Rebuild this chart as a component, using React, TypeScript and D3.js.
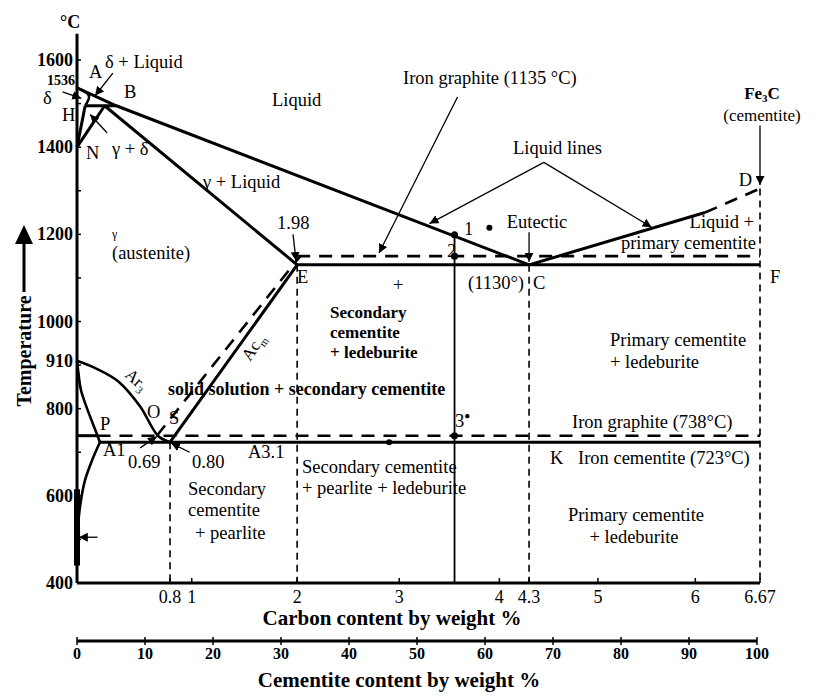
import React from 'react';
import * as d3 from 'd3';

const W = 822;
const H = 698;
const FONT = "'Liberation Serif', 'Times New Roman', serif";

// axis ticks
const carbonTicks = [0.8, 1, 2, 3, 4, 4.3, 5, 6, 6.67];
const carbonTickLabels = ['0.8', '1', '2', '3', '4', '4.3', '5', '6', '6.67'];
const tempTicks = [1600, 1400, 1200, 1000, 910, 800, 600, 400];
const cementiteTicks = [0, 10, 20, 30, 40, 50, 60, 70, 80, 90, 100];

// phase boundaries as [carbon %, temperature °C]
const liquidusABC = [[0, 1536], [0.32, 1495], [4.3, 1130]];
const liquidusCD = [[4.3, 1130], [6.1, 1250]];
const liquidusCDExt = [[6.1, 1250], [6.67, 1305]];
const deltaSolidusAH = [[0, 1536], [0.09, 1518], [0.06, 1495]];
const peritecticHB = [[0.06, 1495], [0.32, 1495]];
const deltaHN = [[0.06, 1495], [0, 1400]];
const gammaJN = [[0.22, 1495], [0, 1400]];
const solidusJE = [[0.22, 1495], [2, 1130]];
const eutecticEF = [[2, 1130], [6.67, 1130]];
const graphiteEutectic = [[2, 1150], [6.67, 1150]];
const acmSE = [[0.8, 723], [2, 1130]];
const acmGraphite = [[0.68, 738], [2.03, 1150]];
const ar3GOS = [[0, 910], [0.15, 892], [0.34, 862], [0.53, 805], [0.69, 738], [0.8, 723]];
const ferriteGP = [[0, 910], [0.01, 880], [0.03, 840], [0.16, 738], [0.18, 723]];
const solvusPQ = [[0.18, 723], [0.116, 682], [0.059, 636], [0.028, 590], [0.01, 545], [0, 500]];
const eutectoidA1 = [[0.18, 723], [6.67, 723]];
const eutectoidGraphite = [[0.16, 738], [6.67, 738]];
const graphiteStub = [[0, 738], [0.16, 738]];
const ferriteEdge = [[0, 440], [0, 615]];

// vertical dashed composition lines [carbon, top temperature]
const dropLines = [[0.8, 723], [2, 1130], [4.3, 1130], [6.67, 1305]];

// alloy being followed (vertical through points 1, 2, 3)
const alloyCarbon = 3.55;
const alloyTemps = [1150, 738];
const strayDots = [[3.9, 1215], [2.9, 723]];

// annotation arrows [from, to] in data units
const arrowLines = [
  [[3.58, 1515], [2.8, 1157]],
  [[4.3, 1205], [4.3, 1137]],
  [[6.67, 1450], [6.67, 1313]],
  [[1.96, 1200], [1.99, 1139]],
  [[0.29, 1570], [0.14, 1518]],
  [[-0.11, 1527], [0.03, 1512]],
  [[0.24, 1433], [0.1, 1475]],
  [[0.53, 710], [0.68, 736]],
  [[0.98, 700], [0.81, 721]],
  [[0.16, 505], [0.012, 505]],
];

type Lbl = { t: string; x: number; y: number; s?: number; b?: boolean; a?: string };
const labels: Lbl[] = [
  { t: '°C', x: 60, y: 28, b: true, s: 18 },
  { t: 'δ + Liquid', x: 105, y: 68 },
  { t: 'A', x: 89, y: 78 },
  { t: 'B', x: 124, y: 98 },
  { t: 'δ', x: 43, y: 104 },
  { t: 'H', x: 62, y: 121 },
  { t: 'N', x: 86, y: 159 },
  { t: 'γ + δ', x: 112, y: 155 },
  { t: 'Liquid', x: 272, y: 106 },
  { t: 'γ + Liquid', x: 203, y: 188 },
  { t: 'Iron graphite (1135 °C)', x: 403, y: 84 },
  { t: 'Liquid lines', x: 513, y: 154 },
  { t: '(cementite)', x: 762, y: 121, a: 'middle', s: 17 },
  { t: 'D', x: 752, y: 186, a: 'end' },
  { t: 'Eutectic', x: 537, y: 228, a: 'middle' },
  { t: 'Liquid +', x: 754, y: 228, a: 'end' },
  { t: 'primary cementite', x: 756, y: 249, a: 'end' },
  { t: '1.98', x: 277, y: 229 },
  { t: 'γ', x: 112, y: 238, s: 12 },
  { t: '(austenite)', x: 112, y: 259 },
  { t: '1', x: 464, y: 235 },
  { t: '2', x: 447, y: 257 },
  { t: 'E', x: 297, y: 283 },
  { t: '(1130°)', x: 468, y: 289 },
  { t: 'C', x: 533, y: 289 },
  { t: 'F', x: 770, y: 283 },
  { t: '+', x: 393, y: 291 },
  { t: 'Secondary', x: 330, y: 318, b: true, s: 17 },
  { t: 'cementite', x: 330, y: 338, b: true, s: 17 },
  { t: '+ ledeburite', x: 330, y: 358, b: true, s: 17 },
  { t: 'Primary cementite', x: 610, y: 346 },
  { t: '+ ledeburite', x: 610, y: 368 },
  { t: 'solid solution + secondary  cementite', x: 168, y: 395, b: true, s: 18 },
  { t: 'O', x: 147, y: 418 },
  { t: 'S', x: 169, y: 424 },
  { t: 'P', x: 100, y: 430 },
  { t: 'Iron graphite (738°C)', x: 572, y: 428 },
  { t: 'A1', x: 103, y: 456 },
  { t: 'A3.1', x: 248, y: 458 },
  { t: '0.69', x: 128, y: 468 },
  { t: '0.80', x: 192, y: 468 },
  { t: 'K', x: 550, y: 464 },
  { t: 'Iron cementite (723°C)', x: 578, y: 464 },
  { t: 'Secondary  cementite', x: 302, y: 473 },
  { t: '+ pearlite + ledeburite', x: 302, y: 494 },
  { t: 'Secondary', x: 188, y: 495 },
  { t: 'cementite', x: 188, y: 516 },
  { t: '+ pearlite', x: 195, y: 539 },
  { t: 'Primary cementite', x: 636, y: 521, a: 'middle' },
  { t: '+ ledeburite', x: 634, y: 543, a: 'middle' },
];

function interpAt(pts: number[][], c: number) {
  for (let i = 0; i < pts.length - 1; i++) {
    const [c0, t0] = pts[i];
    const [c1, t1] = pts[i + 1];
    if (c >= c0 && c <= c1) return t0 + ((c - c0) / (c1 - c0)) * (t1 - t0);
  }
  return pts[pts.length - 1][1];
}

export default function App() {
  const x = d3.scalePow().exponent(0.94).domain([0, 6.67]).range([77, 760]);
  const y = d3.scaleLinear().domain([400, 1600]).range([583, 60]);
  const xc = d3.scaleLinear().domain([0, 100]).range([77, 757]);

  const straight = d3.line<number[]>().x(d => x(d[0])).y(d => y(d[1]));
  const curved = d3.line<number[]>().x(d => x(d[0])).y(d => y(d[1])).curve(d3.curveCatmullRom.alpha(0.5));

  const solidLines = [liquidusABC, liquidusCD, peritecticHB, deltaHN, gammaJN, solidusJE,
    eutecticEF, acmSE, eutectoidA1, graphiteStub];
  const curvedLines = [deltaSolidusAH, ar3GOS, ferriteGP, solvusPQ];
  const dashedLines = [liquidusCDExt, graphiteEutectic, acmGraphite, eutectoidGraphite];

  const point1 = interpAt(liquidusABC, alloyCarbon);
  const liqTipL = [3.3, interpAt(liquidusABC, 3.3) + 3];
  const liqTipR = [5.55, interpAt(liquidusCD, 5.55) + 3];
  const liqVertex = [4.45, 1365];

  const cementiteAxisY = 641;
  const bottom = y(400);

  return (
    <svg width={W} height={H} style={{ position: 'absolute', left: 0, top: 0, background: '#fff' }}
      fontFamily={FONT}>
      <defs>
        <marker id="head" viewBox="0 0 10 10" refX="10" refY="5" markerWidth="9" markerHeight="9"
          markerUnits="userSpaceOnUse" orient="auto">
          <path d="M0,0 L10,5 L0,10 z" fill="#000" />
        </marker>
      </defs>
      <rect width={W} height={H} fill="#fff" />

      {/* axes */}
      <line x1={x(0)} x2={x(0)} y1={y(400)} y2={y(1660)} stroke="#000" strokeWidth={3} />
      <line x1={x(0)} x2={x(6.67)} y1={bottom} y2={bottom} stroke="#000" strokeWidth={3} />
      <path d={straight(ferriteEdge) || ''} stroke="#000" strokeWidth={6} fill="none" />
      {d3.range(500, 1700, 100).map(t => (
        <line key={t} x1={x(0)} x2={x(0) + 4} y1={y(t)} y2={y(t)} stroke="#000" strokeWidth={1.5} />
      ))}
      {carbonTicks.map(c => (
        <line key={c} x1={x(c)} x2={x(c)} y1={bottom} y2={bottom - 5} stroke="#000" strokeWidth={1.5} />
      ))}
      {tempTicks.map(t => (
        <text key={t} x={73} y={y(t) + 6} textAnchor="end" fontSize={18} fontWeight="bold">{t}</text>
      ))}
      <text x={75} y={y(1536) - 3} textAnchor="end" fontSize={14} fontWeight="bold">1536</text>
      {carbonTicks.map((c, i) => (
        <text key={c} x={x(c)} y={603} textAnchor="middle" fontSize={18}>{carbonTickLabels[i]}</text>
      ))}
      <text x={392} y={625} textAnchor="middle" fontSize={21} fontWeight="bold">Carbon content by weight %</text>

      {/* cementite scale */}
      <line x1={xc(0)} x2={xc(100)} y1={cementiteAxisY} y2={cementiteAxisY} stroke="#000" strokeWidth={3} />
      {cementiteTicks.map(v => (
        <line key={v} x1={xc(v)} x2={xc(v)} y1={cementiteAxisY - 4} y2={cementiteAxisY + 4} stroke="#000" strokeWidth={1.5} />
      ))}
      {cementiteTicks.map(v => (
        <text key={v} x={xc(v)} y={659} textAnchor="middle" fontSize={16} fontWeight="bold">{v}</text>
      ))}
      <text x={399} y={687} textAnchor="middle" fontSize={21} fontWeight="bold">Cementite content by weight %</text>

      {/* temperature label */}
      <text transform="translate(31,351) rotate(-90)" textAnchor="middle" fontSize={20} fontWeight="bold">Temperature</text>
      <line x1={24} x2={24} y1={292} y2={240} stroke="#000" strokeWidth={3} />
      <path d="M15,244 L24,225 L33,244 Z" fill="#000" />

      {/* composition drop lines */}
      {dropLines.map(([c, t]) => (
        <line key={c} x1={x(c)} x2={x(c)} y1={y(t)} y2={bottom} stroke="#000" strokeWidth={1.6} strokeDasharray="7 5" />
      ))}

      {/* phase boundaries */}
      {solidLines.map((d, i) => (
        <path key={'s' + i} d={straight(d) || ''} stroke="#000" strokeWidth={3} fill="none" strokeLinejoin="round" />
      ))}
      {curvedLines.map((d, i) => (
        <path key={'c' + i} d={curved(d) || ''} stroke="#000" strokeWidth={2.6} fill="none" />
      ))}
      {dashedLines.map((d, i) => (
        <path key={'d' + i} d={straight(d) || ''} stroke="#000" strokeWidth={2.6} fill="none" strokeDasharray="13 9" />
      ))}

      {/* alloy line */}
      <line x1={x(alloyCarbon)} x2={x(alloyCarbon)} y1={y(point1)} y2={bottom} stroke="#000" strokeWidth={1.8} />
      {[point1, ...alloyTemps].map(t => (
        <circle key={t} cx={x(alloyCarbon)} cy={y(t)} r={3.5} fill="#000" />
      ))}
      {strayDots.map(([c, t]) => (
        <circle key={c} cx={x(c)} cy={y(t)} r={3} fill="#000" />
      ))}

      {/* annotation arrows */}
      {arrowLines.map(([f, t], i) => (
        <line key={i} x1={x(f[0])} y1={y(f[1])} x2={x(t[0])} y2={y(t[1])} stroke="#000"
          strokeWidth={1.3} markerEnd="url(#head)" />
      ))}
      {[liqTipL, liqTipR].map((t, i) => (
        <line key={'lq' + i} x1={x(liqVertex[0])} y1={y(liqVertex[1])} x2={x(t[0])} y2={y(t[1])}
          stroke="#000" strokeWidth={1.3} markerEnd="url(#head)" />
      ))}

      {/* labels */}
      {labels.map((l, i) => (
        <text key={i} x={l.x} y={l.y} fontSize={l.s || 18.5} fontWeight={l.b ? 'bold' : 'normal'}
          textAnchor={l.a || 'start'}>{l.t}</text>
      ))}
      <text x={762} y={99} textAnchor="middle" fontSize={17} fontWeight="bold">
        Fe<tspan fontSize={11} dy={3}>3</tspan><tspan dy={-3}>C</tspan>
      </text>
      <text x={455} y={427} fontSize={18.5}>3<tspan fontSize={10} dy={-8}>●</tspan></text>
      <text transform="translate(124,376) rotate(42)" fontSize={17}>Ar<tspan fontSize={11} dy={4}>3</tspan></text>
      <text transform="translate(250,362) rotate(-56)" fontSize={17}>Ac<tspan fontSize={11} dy={4}>m</tspan></text>
    </svg>
  );
}
